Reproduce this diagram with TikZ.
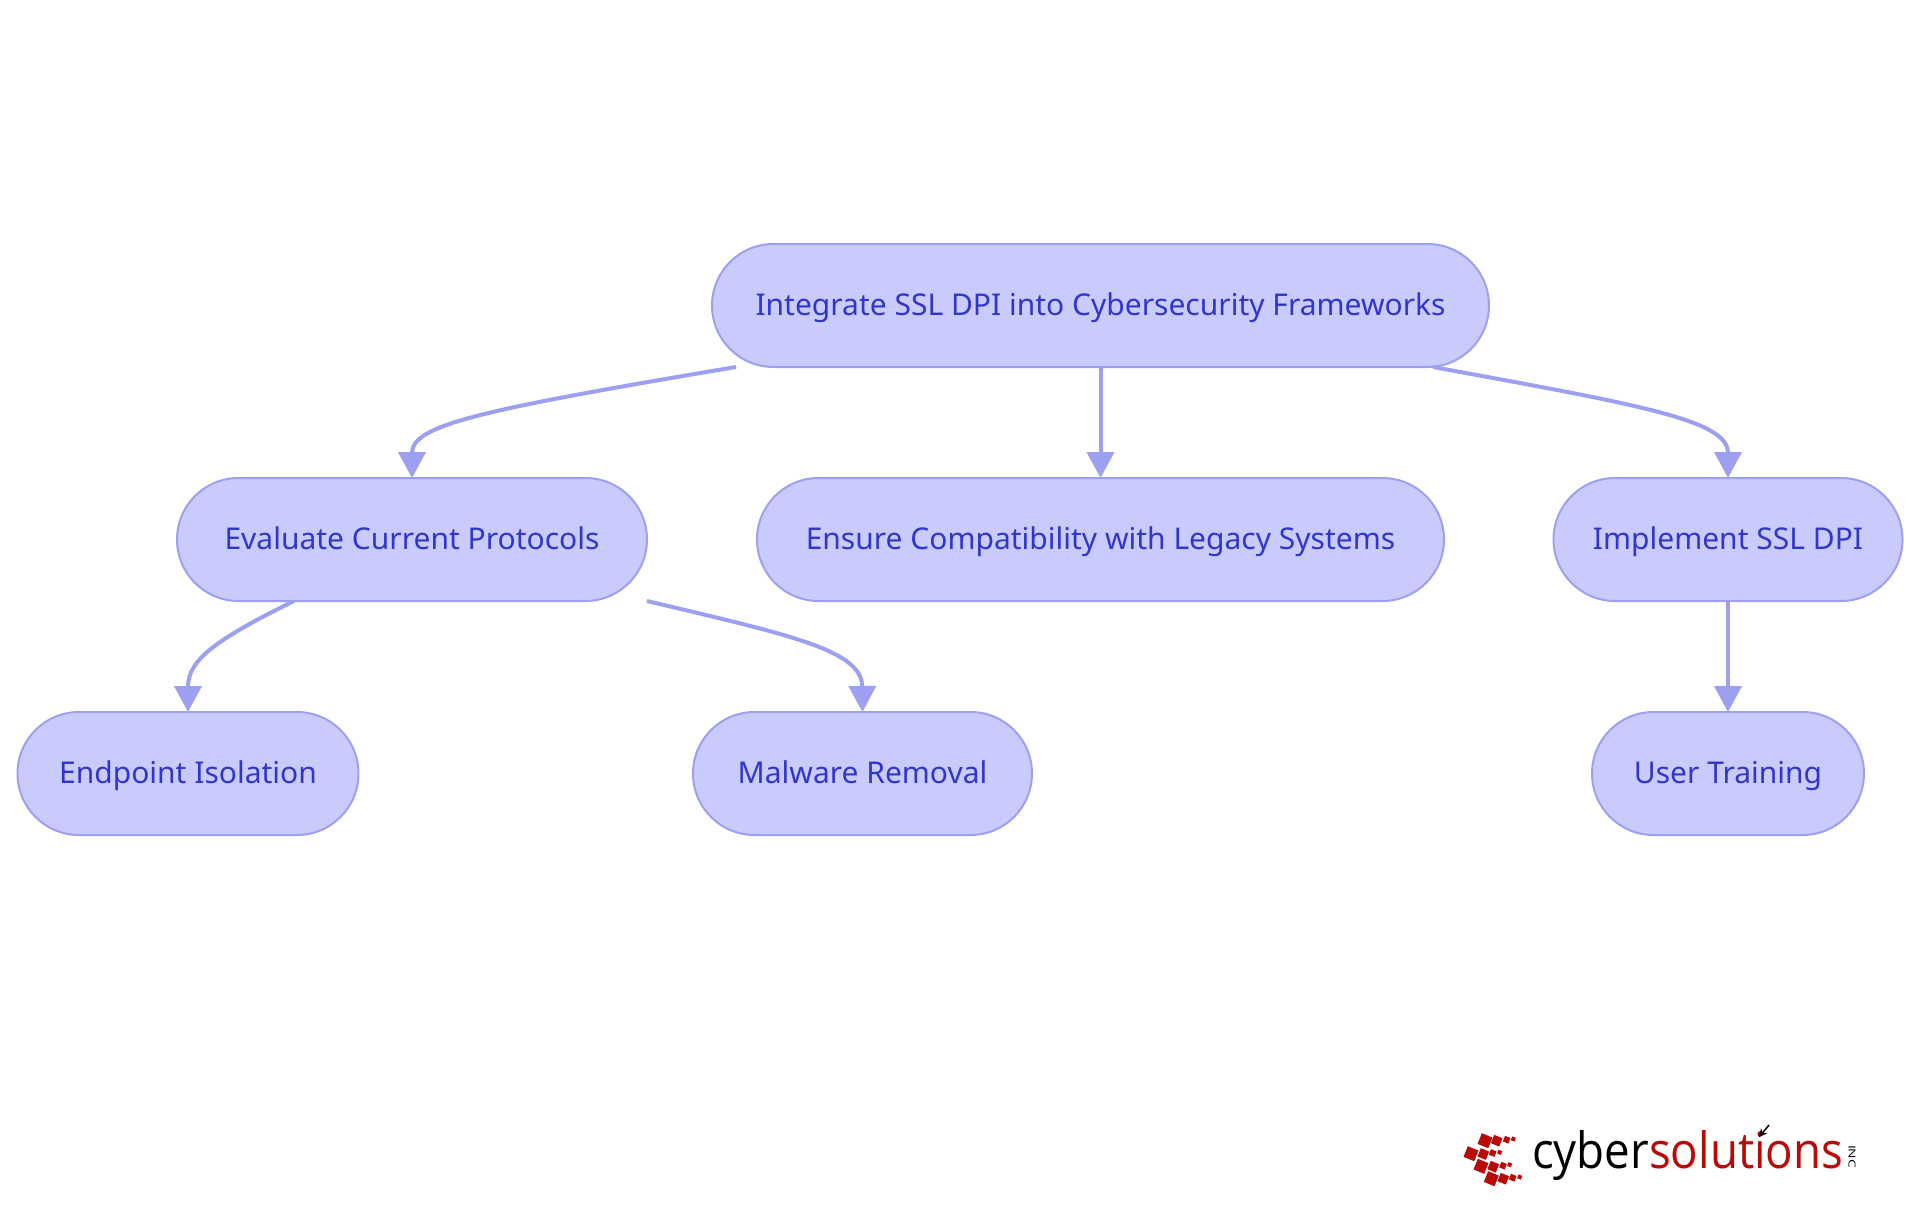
\documentclass[tikz,border=0pt]{standalone}
\usepackage{fontspec}
\setmainfont{Noto Sans}
\newfontfamily\logofont{Open Sans}
\usetikzlibrary{arrows.meta,shapes.misc}
\definecolor{boxfill}{RGB}{202,203,253}
\definecolor{boxline}{RGB}{157,160,240}
\definecolor{boxtext}{RGB}{48,54,204}
\definecolor{logored}{RGB}{185,10,10}
\tikzset{
  stepbox/.style={rounded rectangle,draw=boxline,fill=boxfill,line width=2pt,minimum height=123pt,outer sep=0pt,
    inner sep=0pt,text=boxtext,text height=24pt,text depth=4pt,font=\fontsize{30}{36}\selectfont},
  link/.style={draw=boxline,line width=4pt,-{Triangle[width=27pt,length=26pt]}},
}
\begin{document}
\begin{tikzpicture}[x=1pt,y=-1pt]
  \useasboundingbox (0,0) rectangle (1920,1215);
  \node[stepbox,minimum width=777pt] (root) at (1100.5,305.5) {Integrate SSL DPI into Cybersecurity Frameworks};
  \node[stepbox,minimum width=470pt] (eval) at (412,539.5) {Evaluate Current Protocols};
  \node[stepbox,minimum width=687pt] (compat) at (1100.5,539.5) {Ensure Compatibility with Legacy Systems};
  \node[stepbox,minimum width=349pt] (impl) at (1728,539.5) {Implement SSL DPI};
  \node[stepbox,minimum width=341pt] (endpt) at (188,773.5) {Endpoint Isolation};
  \node[stepbox,minimum width=339pt] (malw) at (862.5,773.5) {Malware Removal};
  \node[stepbox,minimum width=272pt] (train) at (1728,773.5) {User Training};
  \draw[link] ([xshift=-364.5pt]root.south) .. controls (480,410) and (412,425) .. (eval.north);
  \draw[link] (root.south) -- (compat.north);
  \draw[link] ([xshift=332.5pt]root.south) .. controls (1640,405) and (1728,420) .. (impl.north);
  \draw[link] ([xshift=-118pt]eval.south) .. controls (215,640) and (188,660) .. (endpt.north);
  \draw[link] ([xshift=235pt]eval.south) .. controls (790,635) and (862,650) .. (malw.north);
  \draw[link] (impl.south) -- (train.north);
  % logo
  \foreach \cx/\cy/\sz in {1485/1140.7/11.5,1496.7/1140.7/9,1506.7/1139.7/6,1513.3/1139/4,
    1471/1153.7/11.5,1483.3/1154/9,1492.7/1153/6,1499.7/1152.3/4,
    1481/1166.3/11.5,1493.3/1166.7/9,1503/1165.7/6,1509.7/1164.7/4,
    1491.3/1178.7/11.5,1503.3/1178.7/9,1512.7/1177.7/6,1519.7/1177/4}
    \fill[logored,rotate around={-22:(\cx,\cy)}] (\cx-\sz/2,\cy-\sz/2) rectangle (\cx+\sz/2,\cy+\sz/2);
  \node[anchor=base west,inner sep=0pt,font=\logofont\fontsize{48}{48}\selectfont] (logo) at (1532,1168)
    {\resizebox{311pt}{38pt}{cyber\textcolor{logored}{solutions}}};
  \node[rotate=-90,inner sep=0pt,font=\logofont\fontsize{10}{10}\selectfont,text=black] (inc) at (1852,1156.5) {\resizebox{23pt}{7pt}{INC}};
  \draw[-{Stealth[length=8pt,width=8pt]},black,line width=1.5pt] (1769,1125) -- (1759,1137);
\end{tikzpicture}
\end{document}
